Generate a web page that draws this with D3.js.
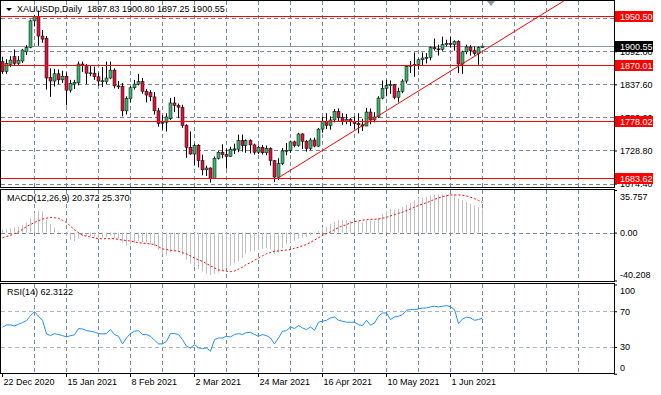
<!DOCTYPE html>
<html>
<head>
<meta charset="utf-8">
<script src="https://cdn.jsdelivr.net/npm/d3@7"></script>
<style>
body { margin: 0; background: #fff; }
svg text { font-family: "Liberation Sans", Arial, sans-serif; font-size: 9px; fill: #000; }
</style>
</head>
<body>
<div id="chart"></div>
<script>
var symbol = "XAUUSDp,Daily";

// bar index 0 = 22 Dec 2020, one bar per trading day
var labelIdx = [0, 16, 32, 48, 64, 80, 96, 112];
var tickLabels = ["22 Dec 2020", "15 Jan 2021", "8 Feb 2021", "2 Mar 2021",
                  "24 Mar 2021", "16 Apr 2021", "10 May 2021", "1 Jun 2021"];

var opens = [1875,1858.5,1870,1883,1872,1876,1891,1898,1942,1949,
  1917,1913,1849,1843,1855,1845,1851,1828,1838,1840,
  1871,1869,1856,1856,1850,1843,1842,1848,1861,1835,
  1834,1794,1814,1832,1838,1842,1826,1824,1817,1794,
  1773,1775,1781,1807,1803,1800,1770,1734,1723,1737,
  1712,1697,1700,1683,1716,1726,1722,1719,1731,1731,
  1745,1737,1745,1738,1726,1734,1725,1732,1712,1685,
  1707,1728,1729,1743,1737,1756,1744,1732,1746,1736,
  1764,1777,1770,1779,1793,1783,1777,1780,1776,1773,
  1771,1769,1792,1779,1784,1815,1831,1836,1837,1816,
  1826,1843,1867,1869,1870,1878,1881,1882,1898,1896,
  1895,1903,1905,1903,1908,1871,1891,1899,1893,1888,
  1897.83];
var highs = [1883,1879,1884,1895,1884,1896,1902,1944,1952,1959,
  1927,1917,1864,1863,1862,1860,1857,1845,1845,1875,
  1875,1871,1868,1867,1857,1866,1875,1875,1864,1843,
  1840,1818,1835,1845,1855,1848,1830,1828,1825,1799,
  1787,1790,1815,1817,1806,1804,1772,1760,1740,1739,
  1722,1704,1701,1719,1728,1739,1732,1735,1740,1755,
  1755,1747,1747,1740,1737,1738,1737,1734,1713,1716,
  1733,1741,1745,1745,1758,1757,1746,1749,1750,1766,
  1784,1790,1785,1797,1798,1790,1789,1782,1785,1790,
  1781,1799,1798,1792,1818,1844,1845,1844,1838,1832,
  1846,1869,1876,1890,1880,1890,1889,1900,1913,1903,
  1916,1911,1916,1910,1910,1893,1903,1902,1900,1900,
  1900.80];
var lows = [1855,1855,1866,1868,1868,1873,1886,1897,1933,1901,
  1906,1829,1817,1834,1838,1840,1803,1824,1830,1836,
  1858,1838,1851,1845,1835,1833,1838,1846,1831,1830,
  1785,1788,1808,1829,1836,1822,1808,1810,1788,1768,
  1763,1760,1779,1792,1782,1766,1717,1722,1705,1701,
  1688,1687,1676,1682,1714,1716,1699,1718,1723,1726,
  1727,1725,1724,1722,1723,1722,1721,1704,1677,1680,
  1705,1721,1725,1734,1735,1731,1727,1729,1734,1735,
  1758,1764,1763,1775,1776,1771,1772,1769,1764,1757,
  1761,1769,1772,1775,1782,1813,1818,1822,1813,1808,
  1823,1839,1856,1850,1862,1869,1872,1877,1893,1885,
  1893,1900,1898,1893,1856,1855,1887,1885,1885,1870,
  1897.25];
var closes = [1858.5,1872,1877.5,1872,1877.5,1894,1898,1942,1949,1917,
  1912,1848,1843,1855,1845,1851,1828,1839,1841,1871,
  1869,1856,1856.5,1850,1843,1843.5,1848,1861,1835,1834,
  1794,1814,1832,1838,1842,1826,1820,1817,1794,1773,
  1775,1784,1807,1803,1800,1770,1734,1723,1737,1712,
  1697,1700,1683,1716,1726,1722,1719,1731,1731.5,1745,
  1737,1745,1738,1726,1734,1725,1732,1712,1685,1707,
  1728,1729,1743,1737,1756,1744,1732,1746,1736,1764,
  1777,1770,1779,1793,1783,1777,1780,1776,1773,1771,
  1769,1792,1779,1784,1815,1831,1836,1837,1816,1826,
  1843,1867,1869,1870,1878,1881,1882,1898,1896,1895,
  1903,1905,1903,1908,1871,1891,1899,1893,1888,1898,
  1900.55];

var macdMain = [2.3,2.8,3.4,4.3,5.1,6.3,8.5,12.0,16.5,18.2,
  17.7,10.8,7.1,4.3,0.9,-0.6,-2.8,-6.3,-7.1,-5.1,
  -2.8,-2.8,-2.8,-3.4,-4.3,-4.3,-3.7,-2.8,-4.3,-5.7,
  -8.5,-10.8,-10.0,-8.5,-7.1,-8.0,-8.5,-10.0,-11.4,-14.2,
  -18.5,-19.4,-16.5,-15.7,-16.5,-18.5,-22.8,-26.2,-28.5,-30.8,
  -32.8,-34.2,-35.6,-34.8,-33.6,-31.3,-29.9,-27.9,-25.6,-24.2,
  -21.0,-17.7,-15.7,-15.7,-14.8,-13.7,-12.8,-13.7,-18.0,-16.5,
  -12.8,-10.0,-8.5,-7.1,-5.1,-4.3,-3.4,-2.3,-0.6,1.4,
  4.3,5.1,7.1,9.1,10.5,10.5,10.5,10.0,9.1,9.1,
  8.5,10.0,10.0,10.0,12.0,15.7,18.5,19.9,19.4,19.9,
  21.4,23.4,25.1,27.1,29.1,29.3,29.9,31.3,31.9,31.9,
  32.2,31.9,31.9,31.9,28.5,27.1,25.6,24.2,22.8,21.4,
  20.372];
var macdSignal = [-4.3,-3.3,-2.3,-0.9,0.6,2.8,5.1,6.8,8.5,10.0,
  11.4,12.1,12.8,12.5,12.0,10.3,8.5,5.4,2.3,0.0,
  -2.3,-3.0,-3.7,-4.4,-5.1,-5.1,-5.1,-5.1,-5.1,-5.7,
  -6.3,-6.7,-7.1,-7.8,-8.5,-8.8,-9.1,-9.5,-10.0,-11.8,
  -13.7,-14.2,-14.8,-15.2,-15.7,-16.8,-17.9,-19.6,-21.4,-22.8,
  -24.2,-26.0,-27.9,-29.6,-31.3,-31.9,-32.5,-32.8,-32.2,-30.7,
  -29.1,-27.1,-25.1,-23.2,-21.4,-19.5,-17.7,-16.7,-15.7,-15.4,
  -15.1,-14.6,-14.2,-13.2,-12.3,-11.1,-10.0,-8.1,-6.3,-4.3,
  -2.3,-0.8,0.6,2.4,4.3,5.5,6.8,8.0,9.1,9.8,
  10.5,10.8,11.1,11.2,11.4,12.1,12.8,14.0,15.1,16.1,
  17.1,18.5,19.9,21.3,22.8,23.9,25.1,26.5,27.9,29.0,
  30.2,30.9,31.6,31.6,31.6,31.4,30.8,29.7,28.5,27.0,
  25.370];
var rsi = [52.1,54.7,54.7,53.6,55.4,57.3,59.5,65.1,69.6,64.4,
  59.9,44.6,42.7,45.0,43.9,42.7,41.2,42.7,43.5,50.6,
  50.2,48.3,47.6,46.8,45.0,44.6,45.0,49.5,43.9,42.0,
  33.4,40.1,45.0,47.6,48.3,43.9,43.9,42.0,37.5,33.4,
  33.4,36.4,45.0,45.0,43.9,38.2,30.8,28.9,32.6,28.9,
  28.2,28.9,25.2,38.2,40.1,40.1,42.0,41.2,43.9,45.0,
  43.9,45.7,46.5,43.9,42.0,43.9,42.7,40.1,33.4,40.1,
  47.6,48.3,52.4,50.6,53.9,51.3,49.5,52.4,48.7,57.7,
  58.8,59.9,62.5,63.6,59.9,58.8,57.7,57.7,57.7,55.1,
  53.9,59.9,54.3,56.9,64.4,68.1,68.1,60.7,63.6,64.4,
  66.3,71.1,71.9,71.9,72.6,73.7,73.7,74.9,75.6,74.9,
  75.6,76.4,74.9,71.9,56.2,61.4,63.3,62.5,59.9,60.7,
  62.3122];

var priceTicks = [1674.40, 1728.80, 1783.20, 1837.60, 1892.00, 1946.40];
var levels = [1950.50, 1870.01, 1778.02, 1683.62];
var bid = 1900.55;
var trendIdx = [69, 114], trendPrice = [1683.62, 1867.0];
var macdTicks = [35.757, 0, -40.208];
var rsiTicks = [100, 70, 30, 0];
var rsiLevels = [70, 30];

var width = 661, height = 395, right = 614;
var panels = [{top: 0, bottom: 187}, {top: 189, bottom: 281}, {top: 283, bottom: 373}];
var gridCol = "#778899", upCol = "#3cb371", downCol = "#dc143c";

var x = d3.scaleLinear().domain([0, 120]).range([2, 482]);
var y = d3.scaleLinear().domain([1670.4, 1974.7]).range([186, 1]);
var ym = d3.scaleLinear().domain([-40.208, 35.757]).range([280.5, 190]);
var yr = d3.scaleLinear().domain([0, 100]).range([373.7, 284.5]);

var px = function(i) { return Math.floor(x(i)) + 0.5; };
var f2 = d3.format(".2f");

var svg = d3.select("#chart").append("svg")
    .attr("width", width)
    .attr("height", height);

var defs = svg.append("defs");
panels.forEach(function(p, k) {
    defs.append("clipPath").attr("id", "clip" + k)
      .append("rect")
        .attr("x", 1).attr("y", p.top + 1)
        .attr("width", right - 1).attr("height", p.bottom - p.top - 1);
});

// vertical grid in every panel
var gridIdx = d3.range(8, 150, 8);
panels.forEach(function(p) {
    svg.append("g").selectAll("line").data(gridIdx).enter().append("line")
        .attr("x1", px).attr("x2", px)
        .attr("y1", p.top + 1).attr("y2", p.bottom)
        .attr("stroke", gridCol)
        .attr("stroke-dasharray", "4,3");
});

// ---------- main panel ----------
var main = svg.append("g").attr("clip-path", "url(#clip0)");

main.append("g").selectAll("line").data(priceTicks).enter().append("line")
    .attr("x1", 1).attr("x2", right)
    .attr("y1", function(d) { return Math.round(y(d)) + 0.5; })
    .attr("y2", function(d) { return Math.round(y(d)) + 0.5; })
    .attr("stroke", gridCol)
    .attr("stroke-dasharray", "4,3");

main.append("line")
    .attr("x1", 1).attr("x2", right)
    .attr("y1", Math.round(y(bid)) + 0.5).attr("y2", Math.round(y(bid)) + 0.5)
    .attr("stroke", "#8c96a0");

var bars = d3.range(opens.length);
var candles = main.append("g").selectAll("g").data(bars).enter().append("g");

candles.append("line")
    .attr("x1", px).attr("x2", px)
    .attr("y1", function(i) { return y(highs[i]); })
    .attr("y2", function(i) { return y(lows[i]); })
    .attr("stroke", "#000");

candles.append("rect")
    .attr("x", function(i) { return px(i) - 1.5; })
    .attr("width", 3)
    .attr("y", function(i) { return y(Math.max(opens[i], closes[i])); })
    .attr("height", function(i) { return Math.max(1, Math.abs(y(opens[i]) - y(closes[i]))); })
    .attr("fill", function(i) { return closes[i] >= opens[i] ? upCol : downCol; })
    .attr("stroke", "#000")
    .attr("stroke-width", 0.5);

main.append("g").selectAll("line").data(levels).enter().append("line")
    .attr("x1", 1).attr("x2", right)
    .attr("y1", function(d) { return Math.round(y(d)) + 0.5; })
    .attr("y2", function(d) { return Math.round(y(d)) + 0.5; })
    .attr("stroke", "#ff0000");

// trend ray from two anchor points
var tx1 = x(trendIdx[0]), ty1 = y(trendPrice[0]),
    tx2 = x(trendIdx[1]), ty2 = y(trendPrice[1]);
main.append("line")
    .attr("x1", tx1).attr("y1", ty1)
    .attr("x2", right).attr("y2", ty1 + (ty2 - ty1) * (right - tx1) / (tx2 - tx1))
    .attr("stroke", "#ff0000");

// ---------- MACD ----------
var macdG = svg.append("g").attr("clip-path", "url(#clip1)");

macdG.append("line")
    .attr("x1", 1).attr("x2", right)
    .attr("y1", Math.round(ym(0)) + 0.5).attr("y2", Math.round(ym(0)) + 0.5)
    .attr("stroke", gridCol)
    .attr("stroke-dasharray", "4,3");

macdG.append("g").selectAll("line").data(bars).enter().append("line")
    .attr("x1", px).attr("x2", px)
    .attr("y1", ym(0))
    .attr("y2", function(i) { return ym(macdMain[i]); })
    .attr("stroke", "#c0c0c0");

macdG.append("path")
    .datum(bars)
    .attr("d", d3.line().x(px).y(function(i) { return ym(macdSignal[i]); }))
    .attr("fill", "none")
    .attr("stroke", "#ff0000")
    .attr("stroke-dasharray", "2,2");

// ---------- RSI ----------
var rsiG = svg.append("g").attr("clip-path", "url(#clip2)");

rsiG.append("g").selectAll("line").data(rsiLevels).enter().append("line")
    .attr("x1", 1).attr("x2", right)
    .attr("y1", function(d) { return Math.round(yr(d)) + 0.5; })
    .attr("y2", function(d) { return Math.round(yr(d)) + 0.5; })
    .attr("stroke", "#b4b4b4")
    .attr("stroke-dasharray", "4,3");

rsiG.append("path")
    .datum(bars)
    .attr("d", d3.line().x(px).y(function(i) { return yr(rsi[i]); }))
    .attr("fill", "none")
    .attr("stroke", "#1e90ff");

// panel borders
panels.forEach(function(p) {
    svg.append("rect")
        .attr("x", 0.5).attr("y", p.top + 0.5)
        .attr("width", right).attr("height", p.bottom - p.top)
        .attr("fill", "none")
        .attr("stroke", "#000");
});

// ---------- axes ----------
function plain(g) {
    g.select(".domain").remove();
    g.selectAll("line").attr("stroke", "#000");
    g.selectAll("text").attr("font-family", null).attr("font-size", null).attr("fill", "#000");
}

svg.append("g")
    .attr("transform", "translate(" + right + ",0)")
    .call(d3.axisRight(y).tickValues(priceTicks).tickFormat(f2).tickSize(3))
    .call(plain);

var macdAxis = svg.append("g")
    .attr("transform", "translate(" + right + ",0)")
    .call(d3.axisRight(ym).tickValues(macdTicks).tickSize(3)
        .tickFormat(function(d) { return d === 0 ? "0.00" : String(d); }))
    .call(plain);
macdAxis.selectAll("text").attr("y", function(d) { return d > 0 ? 7 : d < 0 ? -6 : 0; });

var rsiAxis = svg.append("g")
    .attr("transform", "translate(" + right + ",0)")
    .call(d3.axisRight(yr).tickValues(rsiTicks).tickSize(3))
    .call(plain);
rsiAxis.selectAll("text").attr("y", function(d) { return d === 100 ? 6 : d === 0 ? -6 : 0; });

var timeAxis = svg.append("g")
    .attr("transform", "translate(0," + panels[2].bottom + ")")
    .call(d3.axisBottom(x).tickValues(labelIdx).tickSize(4)
        .tickFormat(function(d, i) { return tickLabels[i]; }))
    .call(plain);
timeAxis.selectAll("text").attr("text-anchor", "start").attr("x", 1).attr("y", 6);

// price boxes on the right scale
var boxes = svg.append("g");
levels.forEach(function(v) {
    var cy = Math.round(y(v)) + 0.5;
    boxes.append("rect").attr("x", 615).attr("y", cy - 5.5).attr("width", 38).attr("height", 11).attr("fill", "#ff0000");
    boxes.append("text").attr("x", 620).attr("y", cy).attr("dy", "0.34em").style("fill", "#fff").text(f2(v));
});
var by = Math.round(y(bid)) + 0.5;
boxes.append("rect").attr("x", 615).attr("y", by - 5.5).attr("width", 38).attr("height", 11).attr("fill", "#000");
boxes.append("text").attr("x", 620).attr("y", by).attr("dy", "0.34em").style("fill", "#fff").text(f2(bid));

// ---------- labels ----------
var last = opens.length - 1;
svg.append("path").attr("d", "M6,8L12,8L9,11Z").attr("fill", "#000");
svg.append("text").attr("x", 17).attr("y", 12)
    .text(symbol + "\u00a0\u00a0" + [opens[last], highs[last], lows[last], closes[last]].map(f2).join(" "));
svg.append("text").attr("x", 7).attr("y", 201)
    .text("MACD(12,26,9) " + d3.format(".3f")(macdMain[last]) + " " + d3.format(".3f")(macdSignal[last]));
svg.append("text").attr("x", 7).attr("y", 295)
    .text("RSI(14) " + d3.format(".4f")(rsi[last]));

// chart shift marker
svg.append("path").attr("d", "M487,1L495,1L491,6Z").attr("fill", "#8c97a6");
</script>
</body>
</html>
